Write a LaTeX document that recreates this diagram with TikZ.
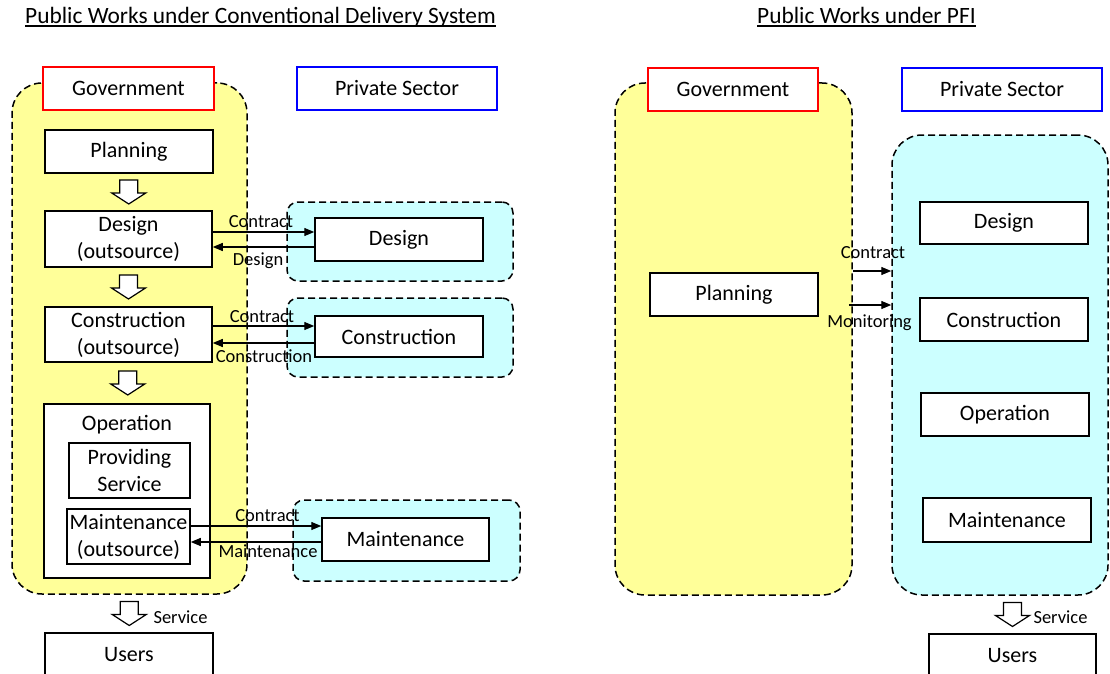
\documentclass[tikz,border=0pt]{standalone}
\usepackage{fontspec}
\setmainfont{Carlito}
\usetikzlibrary{arrows.meta,calc}
\definecolor{ylw}{HTML}{FFFF99}
\definecolor{cyn}{HTML}{CCFFFF}
\newcommand\mainsz{\fontsize{22}{27}\selectfont}
\newcommand\titlesz{\fontsize{23.4}{27}\selectfont}
\newcommand\labsz{\fontsize{18.5}{20}\selectfont}
\begin{document}
\begin{tikzpicture}[x=1pt,y=-1pt,
  box/.style={draw, line width=1.5pt, fill=white, inner sep=0pt, align=center, font=\mainsz},
  grp/.style={draw, line width=1.5pt, dash pattern=on 7pt off 4pt, inner sep=0pt},
  lbl/.style={font=\labsz, inner sep=0pt},
  ttl/.style={font=\titlesz, inner sep=0pt, anchor=base west},
  con/.style={line width=1.3pt, -{Triangle[length=10pt,width=8pt]}},
  pics/blockdown/.style={code={\draw[line width=1.2pt, fill=white, line join=miter]
     (-9,-12) -- (9,-12) -- (9,1) -- (17,1) -- (0,12) -- (-17,1) -- (-9,1) -- cycle;}}
]
\useasboundingbox[fill=white] (0,0) rectangle (1110,674);

% ---------- titles ----------
\node[ttl] (t1) at (25,24) {Public Works under Conventional Delivery System};
\draw[line width=2.4pt] ([yshift=-2.2pt]t1.base west) -- ([yshift=-2.2pt]t1.base east);
\node[ttl] (t2) at (757,24) {Public Works under PFI};
\draw[line width=2.4pt] ([yshift=-2.2pt]t2.base west) -- ([yshift=-2.2pt]t2.base east);

% ---------- left: groups ----------
\node[grp, fill=ylw, rounded corners=30pt, minimum width=235pt, minimum height=511pt] (gYL) at (129.5,338.5) {};
\node[grp, fill=cyn, rounded corners=11pt, minimum width=226pt, minimum height=79pt] (gDes) at (400,241.5) {};
\node[grp, fill=cyn, rounded corners=11pt, minimum width=226pt, minimum height=79pt] (gCon) at (400,337.5) {};
\node[grp, fill=cyn, rounded corners=11pt, minimum width=227pt, minimum height=81pt] (gMnt) at (406.5,540.5) {};

% ---------- left: boxes ----------
\node[box, draw=red, minimum width=171pt, minimum height=43pt] (govL) at (128.5,88.5) {Government};
\node[box, draw=blue, minimum width=200pt, minimum height=43pt] (privL) at (397,88.5) {Private Sector};
\node[box, minimum width=168pt, minimum height=43pt] (planL) at (129,151.5) {Planning};
\node[box, minimum width=167pt, minimum height=56pt] (desL) at (128.5,239) {Design\\(outsource)};
\node[box, minimum width=167pt, minimum height=55pt] (conL) at (128.5,334.5) {Construction\\(outsource)};
\node[box, minimum width=166pt, minimum height=174pt] (opL) at (127,491) {};
\node[lbl, font=\mainsz] (opLt) at ([yshift=-21pt]opL.north) {Operation};
\node[box, minimum width=121pt, minimum height=55pt] (provL) at (129.5,470.5) {Providing\\Service};
\node[box, minimum width=123pt, minimum height=55pt] (mntL) at (128.5,536.5) {Maintenance\\(outsource)};
\node[box, minimum width=168pt, minimum height=44pt] (usersL) at (129,655) {Users};

\node[box, minimum width=168pt, minimum height=43pt] (desR) at (399,239.5) {Design};
\node[box, minimum width=168pt, minimum height=41pt] (conR) at (399,336.5) {Construction};
\node[box, minimum width=167pt, minimum height=43pt] (mntR) at (405.5,539.5) {Maintenance};

% ---------- left: block arrows ----------
\pic at ($(planL.south)!0.5!(desL.north)$) {blockdown};
\pic at ($(desL.south)!0.5!(conL.north)$) {blockdown};
\pic at ($(conL.south)!0.5!(opL.north)$) {blockdown};
\pic at ($(gYL.south)!0.5!(usersL.north)$) {blockdown};
\node[lbl] (svL) at (180.5,617) {Service};

% ---------- left: contract arrows ----------
\draw[con] ([yshift=7pt]desL.east) -- ([yshift=7pt]desL.east -| desR.west);
\draw[con] ([yshift=-8pt]desL.east -| desR.west) -- ([yshift=-8pt]desL.east);
\node[lbl] (cd1) at (261,222) {Contract};
\node[lbl] (cd2) at (258,261) {Design};

\draw[con] ([yshift=8.5pt]conL.east) -- ([yshift=8.5pt]conL.east -| conR.west);
\draw[con] ([yshift=-8.5pt]conL.east -| conR.west) -- ([yshift=-8.5pt]conL.east);
\node[lbl] (cc1) at (262,317) {Contract};
\node[lbl] (cc2) at (264,356) {Construction};

\draw[con] ([yshift=10.5pt]mntL.east) -- ([yshift=10.5pt]mntL.east -| mntR.west);
\draw[con] ([yshift=-5.5pt]mntL.east -| mntR.west) -- ([yshift=-5.5pt]mntL.east);
\node[lbl] (cm1) at (267.5,516) {Contract};
\node[lbl] (cm2) at (268,551) {Maintenance};

% ---------- right: groups ----------
\node[grp, fill=ylw, rounded corners=30pt, minimum width=237pt, minimum height=512pt] (gYR) at (733.5,339) {};
\node[grp, fill=cyn, rounded corners=30pt, minimum width=216pt, minimum height=460pt] (gCR) at (1000,365) {};

% ---------- right: boxes ----------
\node[box, draw=red, minimum width=170pt, minimum height=43pt] (govR) at (733,89.5) {Government};
\node[box, draw=blue, minimum width=200pt, minimum height=43pt] (privR) at (1002,89.5) {Private Sector};
\node[box, minimum width=168pt, minimum height=43pt] (planR) at (734,294.5) {Planning};
\node[box, minimum width=168pt, minimum height=42pt] (desP) at (1004,223) {Design};
\node[box, minimum width=168pt, minimum height=43pt] (conP) at (1004,319.5) {Construction};
\node[box, minimum width=168pt, minimum height=43pt] (opP) at (1005,414.5) {Operation};
\node[box, minimum width=168pt, minimum height=44pt] (mntP) at (1007,520) {Maintenance};
\node[box, minimum width=167pt, minimum height=44pt] (usersR) at (1012.5,656) {Users};

% ---------- right: arrows ----------
\draw[con] ([yshift=68pt]gYR.east) -- ([yshift=68pt]gYR.east -| gCR.west);
\draw[con] ([xshift=-4pt,yshift=34pt]gYR.east) -- ([yshift=34pt]gYR.east -| gCR.west);
\node[lbl] (rc1) at (873,253) {Contract};
\node[lbl] (rc2) at (869.5,323) {Monitoring};

\pic at ($(gCR.south -| usersR.north)!0.5!(usersR.north)$) {blockdown};
\node[lbl] (svR) at (1060.5,617) {Service};
\end{tikzpicture}
\end{document}
